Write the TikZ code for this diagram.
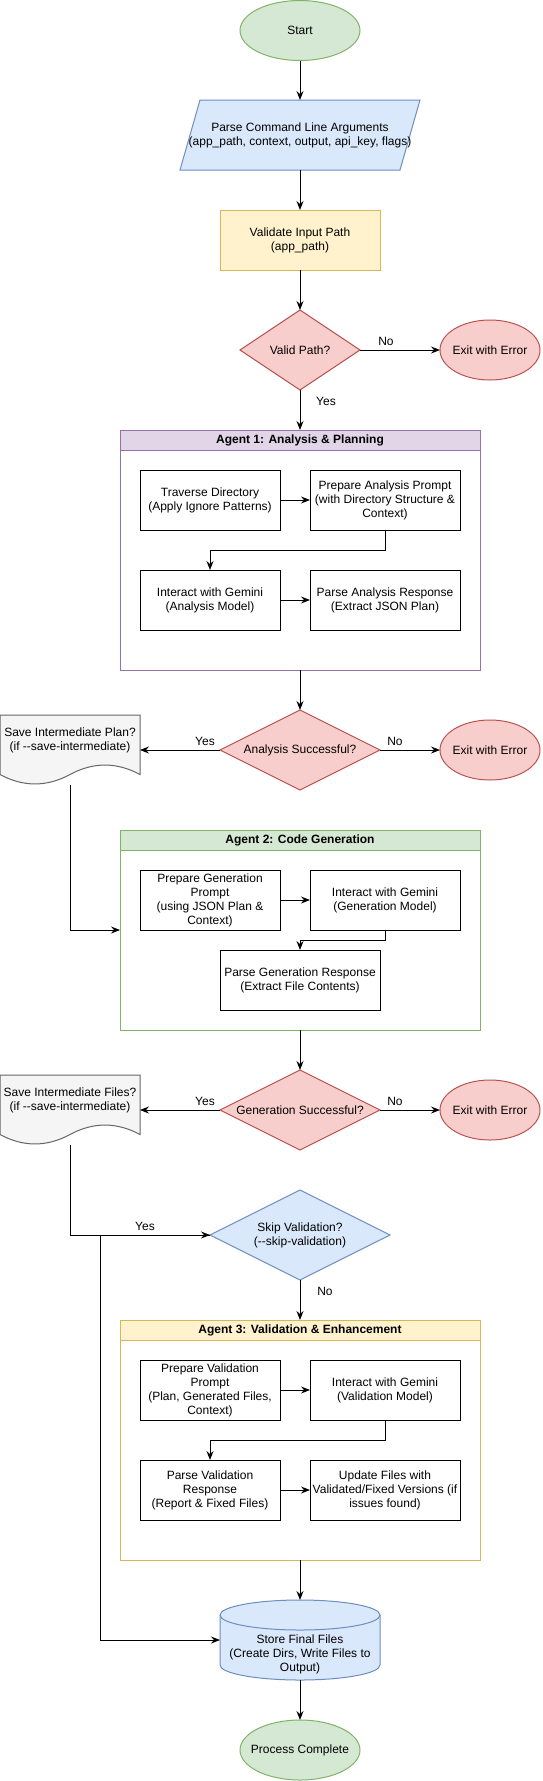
\documentclass[tikz,border=0pt]{standalone}
\usepackage{fontspec}
\setmainfont{Liberation Sans}
\usetikzlibrary{arrows.meta,calc,backgrounds}
\definecolor{gF}{HTML}{D5E8D4}\definecolor{gS}{HTML}{82B366}
\definecolor{bF}{HTML}{DAE8FC}\definecolor{bS}{HTML}{6C8EBF}
\definecolor{yF}{HTML}{FFF2CC}\definecolor{yS}{HTML}{D6B656}
\definecolor{rF}{HTML}{F8CECC}\definecolor{rS}{HTML}{B85450}
\definecolor{pF}{HTML}{E1D5E7}\definecolor{pS}{HTML}{9673A6}
\definecolor{kF}{HTML}{F5F5F5}\definecolor{kS}{HTML}{666666}
\newcommand\ellbg[4]{\begin{pgfonlayer}{background}\draw[shp,#4] (#1.center) ellipse [x radius=#2pt, y radius=#3pt];\end{pgfonlayer}}
\newcommand\diabg[2]{\begin{pgfonlayer}{background}\draw[shp,#2] (#1.north) -- (#1.east) -- (#1.south) -- (#1.west) -- cycle;\end{pgfonlayer}}
\newcommand\docbg[2]{\begin{pgfonlayer}{background}\begin{scope}[shift={(#1.south west)}]
\draw[shp,#2] (0,-70) -- (140,-70) -- (140,-10.5) .. controls (116.67,-23.1) and (93.33,-23.1) .. (70,-10.5) .. controls (46.67,2.1) and (23.33,2.1) .. (0,-10.5) -- cycle;
\end{scope}\end{pgfonlayer}}
\begin{document}
\begin{tikzpicture}[x=1pt,y=-1pt,
  every node/.style={font=\fontsize{12}{14}\selectfont, align=center, inner sep=0pt, outer sep=0pt},
  shp/.style={line width=1pt},
  frm/.style={minimum width=#1, minimum height=60pt},
  box/.style={draw=black, fill=white, line width=1pt, minimum width=#1, minimum height=60pt},
  head/.style={draw=#1, line width=1pt, minimum width=360pt, minimum height=20pt, font=\bfseries\fontsize{12}{14}\selectfont},
  body/.style={draw=#1, fill=white, line width=1pt, minimum width=360pt},
  conn/.style={line width=1pt, -{Stealth[length=9pt,width=7pt,inset=3pt]}},
]
\useasboundingbox (0,0) rectangle (542,1781);

% top chain
\node[frm=120pt] (start) at (300,30.5) {Start};
\ellbg{start}{60}{30}{fill=gF,draw=gS}
\node[minimum width=240pt, minimum height=70pt] (parse) at (300,135) {Parse Command Line Arguments\\(app\_path, context, output, api\_key, flags)};
\begin{pgfonlayer}{background}
\draw[shp,fill=bF,draw=bS] ([xshift=20pt]parse.north west) -- (parse.north east) -- ([xshift=-20pt]parse.south east) -- (parse.south west) -- cycle;
\end{pgfonlayer}
\node[box=160pt, fill=yF, draw=yS] (validate) at (300,240) {Validate Input Path\\(app\_path)};
\node[minimum width=120pt, minimum height=80pt] (valid) at (300,350) {Valid Path?};
\diabg{valid}{fill=rF,draw=rS}
\node[frm=100pt] (exit1) at (490,350) {Exit with Error};
\ellbg{exit1}{50}{30}{fill=rF,draw=rS}

% agent 1
\node[body=pS, minimum height=240pt] (ag1) at (300,550) {};
\node[head=pS, fill=pF] (ag1h) at (300,440) {Agent 1: Analysis \& Planning};
\node[box=140pt] (trav) at (210,500) {Traverse Directory\\(Apply Ignore Patterns)};
\node[box=150pt] (prepA) at (385,500) {Prepare Analysis Prompt\\(with Directory Structure \&\\Context)};
\node[box=140pt] (interA) at (210,600) {Interact with Gemini\\(Analysis Model)};
\node[box=150pt] (parseA) at (385,600) {Parse Analysis Response\\(Extract JSON Plan)};

\node[minimum width=160pt, minimum height=80pt] (anal) at (300,750) {Analysis Successful?};
\diabg{anal}{fill=rF,draw=rS}
\node[frm=100pt] (exit2) at (490,750) {Exit with Error};
\ellbg{exit2}{50}{30}{fill=rF,draw=rS}
\node[minimum width=140pt, minimum height=70pt] (d1) at (70,750) {};
\docbg{d1}{fill=kF,draw=kS}
\node (d1t) at (70,740) {Save Intermediate Plan?\\(if -{}-save-intermediate)};

% agent 2
\node[body=gS, minimum height=200pt] (ag2) at (300,930) {};
\node[head=gS, fill=gF] (ag2h) at (300,840) {Agent 2: Code Generation};
\node[box=140pt] (prepG) at (210,900) {Prepare Generation\\Prompt\\(using JSON Plan \&\\Context)};
\node[box=150pt] (interG) at (385,900) {Interact with Gemini\\(Generation Model)};
\node[box=160pt] (parseG) at (300,980) {Parse Generation Response\\(Extract File Contents)};

\node[minimum width=160pt, minimum height=80pt] (gen) at (300,1110) {Generation Successful?};
\diabg{gen}{fill=rF,draw=rS}
\node[frm=100pt] (exit3) at (490,1110) {Exit with Error};
\ellbg{exit3}{50}{30}{fill=rF,draw=rS}
\node[minimum width=140pt, minimum height=70pt] (d2) at (70,1110) {};
\docbg{d2}{fill=kF,draw=kS}
\node (d2t) at (70,1100) {Save Intermediate Files?\\(if -{}-save-intermediate)};

\node[minimum width=180pt, minimum height=90pt] (skip) at (300,1235) {Skip Validation?\\(-{}-skip-validation)};
\diabg{skip}{fill=bF,draw=bS}

% agent 3
\node[body=yS, minimum height=240pt] (ag3) at (300,1440) {};
\node[head=yS, fill=yF] (ag3h) at (300,1330) {Agent 3: Validation \& Enhancement};
\node[box=140pt] (prepV) at (210,1390) {Prepare Validation\\Prompt\\(Plan, Generated Files,\\Context)};
\node[box=150pt] (interV) at (385,1390) {Interact with Gemini\\(Validation Model)};
\node[box=140pt] (parseV) at (210,1490) {Parse Validation\\Response\\(Report \& Fixed Files)};
\node[box=150pt] (update) at (385,1490) {Update Files with\\Validated/Fixed Versions (if\\issues found)};

% store + end
\node[minimum width=160pt, minimum height=80pt] (cyl) at (300,1640) {};
\begin{pgfonlayer}{background}
\begin{scope}[shift={(cyl.north west)}]
\draw[shp,fill=bF,draw=bS] (0,15) -- (0,65) arc[start angle=180, end angle=360, x radius=80pt, y radius=15pt] -- (160,15) arc[start angle=0, end angle=180, x radius=80pt, y radius=15pt] -- cycle;
\draw[shp,draw=bS] (0,15) arc[start angle=180, end angle=360, x radius=80pt, y radius=15pt];
\end{scope}
\end{pgfonlayer}
\node (cylt) at (300,1654) {Store Final Files\\(Create Dirs, Write Files to\\Output)};
\node[frm=120pt] (done) at (300,1750) {Process Complete};
\ellbg{done}{60}{30}{fill=gF,draw=gS}

% connectors
\draw[conn] (start.south) -- (parse.north);
\draw[conn] (parse.south) -- (validate.north);
\draw[conn] (validate.south) -- (valid.north);
\draw[conn] (valid.east) -- (exit1.west);
\node (lno1) at (386,341) {No};
\draw[conn] (valid.south) -- (ag1h.north);
\node (lyes1) at (326,401) {Yes};
\draw[conn] (trav.east) -- (prepA.west);
\draw[conn] (prepA.south) -- ++(0,20) -| (interA.north);
\draw[conn] (interA.east) -- (parseA.west);
\draw[conn] (ag1.south) -- (anal.north);
\draw[conn] (anal.east) -- (exit2.west);
\node (lno2) at (395,741) {No};
\draw[conn] (anal.west) -- (d1.east);
\node (lyes2) at (205,741) {Yes};
\draw[conn] (d1.south) |- (ag2.west);
\draw[conn] (prepG.east) -- (interG.west);
\draw[conn] (interG.south) -- ++(0,10) -| (parseG.north);
\draw[conn] (ag2.south) -- (gen.north);
\draw[conn] (gen.east) -- (exit3.west);
\node (lno3) at (395,1101) {No};
\draw[conn] (gen.west) -- (d2.east);
\node (lyes3) at (205,1101) {Yes};
\draw[conn] (d2.south) |- (skip.west);
\coordinate (skl) at (100,1235);
\draw[conn] (skip.west) -- (skl) |- (cyl.west);
\node (lyes4) at (145,1226) {Yes};
\draw[conn] (skip.south) -- (ag3h.north);
\node (lno4) at (325,1291) {No};
\draw[conn] (prepV.east) -- (interV.west);
\draw[conn] (interV.south) -- ++(0,20) -| (parseV.north);
\draw[conn] (parseV.east) -- (update.west);
\draw[conn] (ag3.south) -- (cyl.north);
\draw[conn] (cyl.south) -- (done.north);
\end{tikzpicture}
\end{document}
